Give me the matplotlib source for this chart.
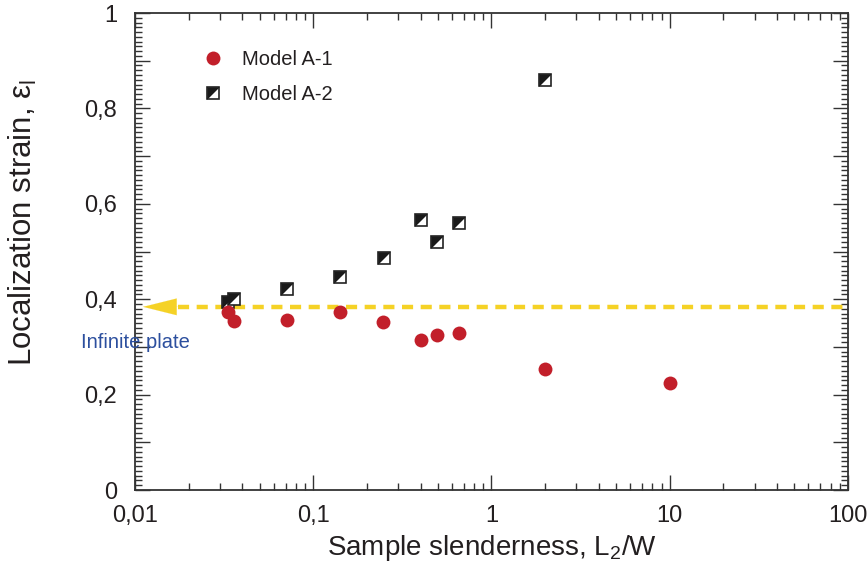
import numpy as np
from matplotlib import pyplot as plt
from matplotlib.lines import Line2D
from matplotlib.legend_handler import HandlerTuple
from matplotlib.ticker import MultipleLocator, FuncFormatter, LogLocator, NullFormatter

plt.rcParams['font.family'] = ['Liberation Sans', 'DejaVu Sans']
plt.rcParams['mathtext.fontset'] = 'custom'
plt.rcParams['mathtext.rm'] = 'Liberation Sans'
plt.rcParams['mathtext.it'] = 'Liberation Sans:italic'

# Model A-1
slender_a1 = [0.0333, 0.036, 0.0714, 0.142, 0.247, 0.40, 0.497, 0.66, 2.0, 10.0]
strain_a1 = [0.373, 0.354, 0.356, 0.373, 0.352, 0.314, 0.325, 0.329, 0.254, 0.224]

# Model A-2
slender_a2 = [0.0333, 0.036, 0.0714, 0.142, 0.25, 0.40, 0.497, 0.66, 2.0]
strain_a2 = [0.394, 0.400, 0.421, 0.447, 0.486, 0.566, 0.520, 0.560, 0.860]

infinite_plate = 0.384

RED = '#c21f2a'
YELLOW = '#f5d226'
BLUE = '#2c4f9e'
AXC = '#333333'
TXT = '#231f20'

# upper-left half of a square
tri = [(-1, -1), (-1, 1), (1, 1), (-1, -1)]


def comma(v, pos=None):
    return ('%g' % v).replace('.', ',')


def ylab(v, pos=None):
    if int(round(v * 10)) % 2:
        return ''
    return comma(round(v, 1))


def main():
    fig = plt.figure(figsize=(8.67, 5.68), dpi=100)
    ax = fig.add_axes([0.1557, 0.1373, 0.8223, 0.8398])

    ax.set_xscale('log')
    ax.set_xlim(0.01, 100)
    ax.set_ylim(0, 1)

    # infinite plate line + arrow
    ax.plot([0.0175, 100], [infinite_plate, infinite_plate], color=YELLOW,
            lw=3.2, ls=(0, (2.5, 1.7)), zorder=2, clip_on=False)
    ax.annotate('', xy=(0.0111, infinite_plate), xytext=(0.0175, infinite_plate),
                arrowprops=dict(arrowstyle='-|>,head_length=2.4,head_width=0.6',
                                color=YELLOW, lw=0.1, shrinkA=0, shrinkB=0),
                zorder=2)
    ax.text(0.01, 0.31, 'Infinite plate', color=BLUE, fontsize=14.5,
            ha='center', va='center', clip_on=False)

    ax.plot(slender_a2, strain_a2, ls='none', marker='s', ms=9,
            mfc='white', mec='#222222', mew=1.2, zorder=3)
    ax.plot(slender_a2, strain_a2, ls='none', marker=tri, ms=9,
            mfc='#1a1a1a', mec='none', zorder=4)
    ax.plot(slender_a1, strain_a1, ls='none', marker='o', ms=10,
            mfc=RED, mec='none', zorder=5)

    h1 = Line2D([], [], ls='none', marker='o', ms=10, mfc=RED, mec='none')
    h2a = Line2D([], [], ls='none', marker='s', ms=9, mfc='white',
                 mec='#222222', mew=1.2)
    h2b = Line2D([], [], ls='none', marker=tri, ms=9, mfc='#1a1a1a', mec='none')
    leg = ax.legend([h1, (h2a, h2b)], ['Model A-1', 'Model A-2'],
                    handler_map={tuple: HandlerTuple(ndivide=1)},
                    loc='upper left', bbox_to_anchor=(0.067, 0.96), frameon=False,
                    fontsize=14.5, handlelength=1.2, handletextpad=0.85,
                    labelspacing=0.8)
    for t in leg.get_texts():
        t.set_color(TXT)

    ax.yaxis.set_major_locator(MultipleLocator(0.1))
    ax.yaxis.set_minor_locator(MultipleLocator(0.01))
    ax.yaxis.set_major_formatter(FuncFormatter(ylab))
    ax.xaxis.set_major_locator(LogLocator(base=10, numticks=10))
    ax.xaxis.set_minor_locator(LogLocator(base=10, subs=np.arange(2, 10), numticks=10))
    ax.xaxis.set_major_formatter(FuncFormatter(comma))
    ax.xaxis.set_minor_formatter(NullFormatter())

    ax.tick_params(which='both', direction='in', top=True, right=True, colors=AXC,
                   labelcolor=TXT, labelsize=17)
    ax.tick_params(which='major', length=11, width=1)
    ax.tick_params(which='minor', length=5, width=1)
    ax.tick_params(axis='x', pad=11)
    ax.tick_params(axis='y', pad=13)
    for sp in ax.spines.values():
        sp.set_color(AXC)
        sp.set_linewidth(1.3)

    ax.set_xlabel('Sample slenderness, L$_2$/W', fontsize=20, color=TXT)
    ax.set_ylabel('Localization strain, ε$_\\mathregular{l}$', fontsize=22.5,
                  color=TXT)
    ax.yaxis.set_label_coords(-0.135, 0.56)

    fig.savefig('out.png', dpi=100)


if __name__ == "__main__":
    main()
